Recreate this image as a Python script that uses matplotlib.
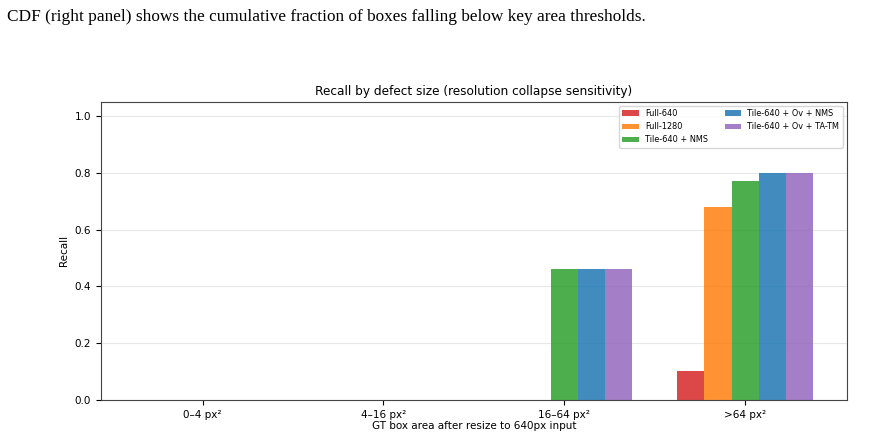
import numpy as np
import matplotlib
matplotlib.use('Agg')
import matplotlib.pyplot as plt

# size buckets and recall per method
buckets = ['0–4 px²', '4–16 px²', '16–64 px²', '>64 px²']
methods = ['Full-640', 'Full-1280', 'Tile-640 + NMS', 'Tile-640 + Ov + NMS', 'Tile-640 + Ov + TA-TM']
recall_full640 = [0.0, 0.0, 0.0, 0.10]
recall_full1280 = [0.0, 0.0, 0.0, 0.68]
recall_tile_nms = [0.0, 0.0, 0.46, 0.77]
recall_tile_ov_nms = [0.0, 0.0, 0.46, 0.80]
recall_tile_ov_tatm = [0.0, 0.0, 0.46, 0.80]
colors = ['#d62728', '#ff7f0e', '#2ca02c', '#1f77b4', '#9467bd']

caption = 'CDF (right panel) shows the cumulative fraction of boxes falling below key area thresholds.'

fig = plt.figure(figsize=(8.84, 4.37), dpi=100)
fig.text(0.008, 0.953, caption, family='Liberation Serif', fontsize=12.4, va='baseline')

ax = fig.add_axes([0.114, 0.085, 0.844, 0.682])
series = [recall_full640, recall_full1280, recall_tile_nms, recall_tile_ov_nms, recall_tile_ov_tatm]
x = np.arange(len(buckets))
w = 0.15
for i, (vals, name, c) in enumerate(zip(series, methods, colors)):
    ax.bar(x + (i - 2) * w, vals, w, label=name, color=c, alpha=0.85)

ax.set_xticks(x)
ax.set_xticklabels(buckets, fontsize=7.5)
ax.tick_params(axis='y', labelsize=7.5)
ax.set_ylim(0, 1.05)
ax.set_ylabel('Recall', fontsize=7.5)
ax.set_xlabel('GT box area after resize to 640px input', fontsize=7.5, labelpad=1)
ax.set_title('Recall by defect size (resolution collapse sensitivity)', fontsize=8.75, pad=5)
ax.grid(axis='y', alpha=0.3)
ax.set_axisbelow(True)
for s in ax.spines.values():
    s.set_color('#444444')
ax.legend(ncol=2, fontsize=5.9, loc='upper right')

fig.savefig('out.png', dpi=100)
